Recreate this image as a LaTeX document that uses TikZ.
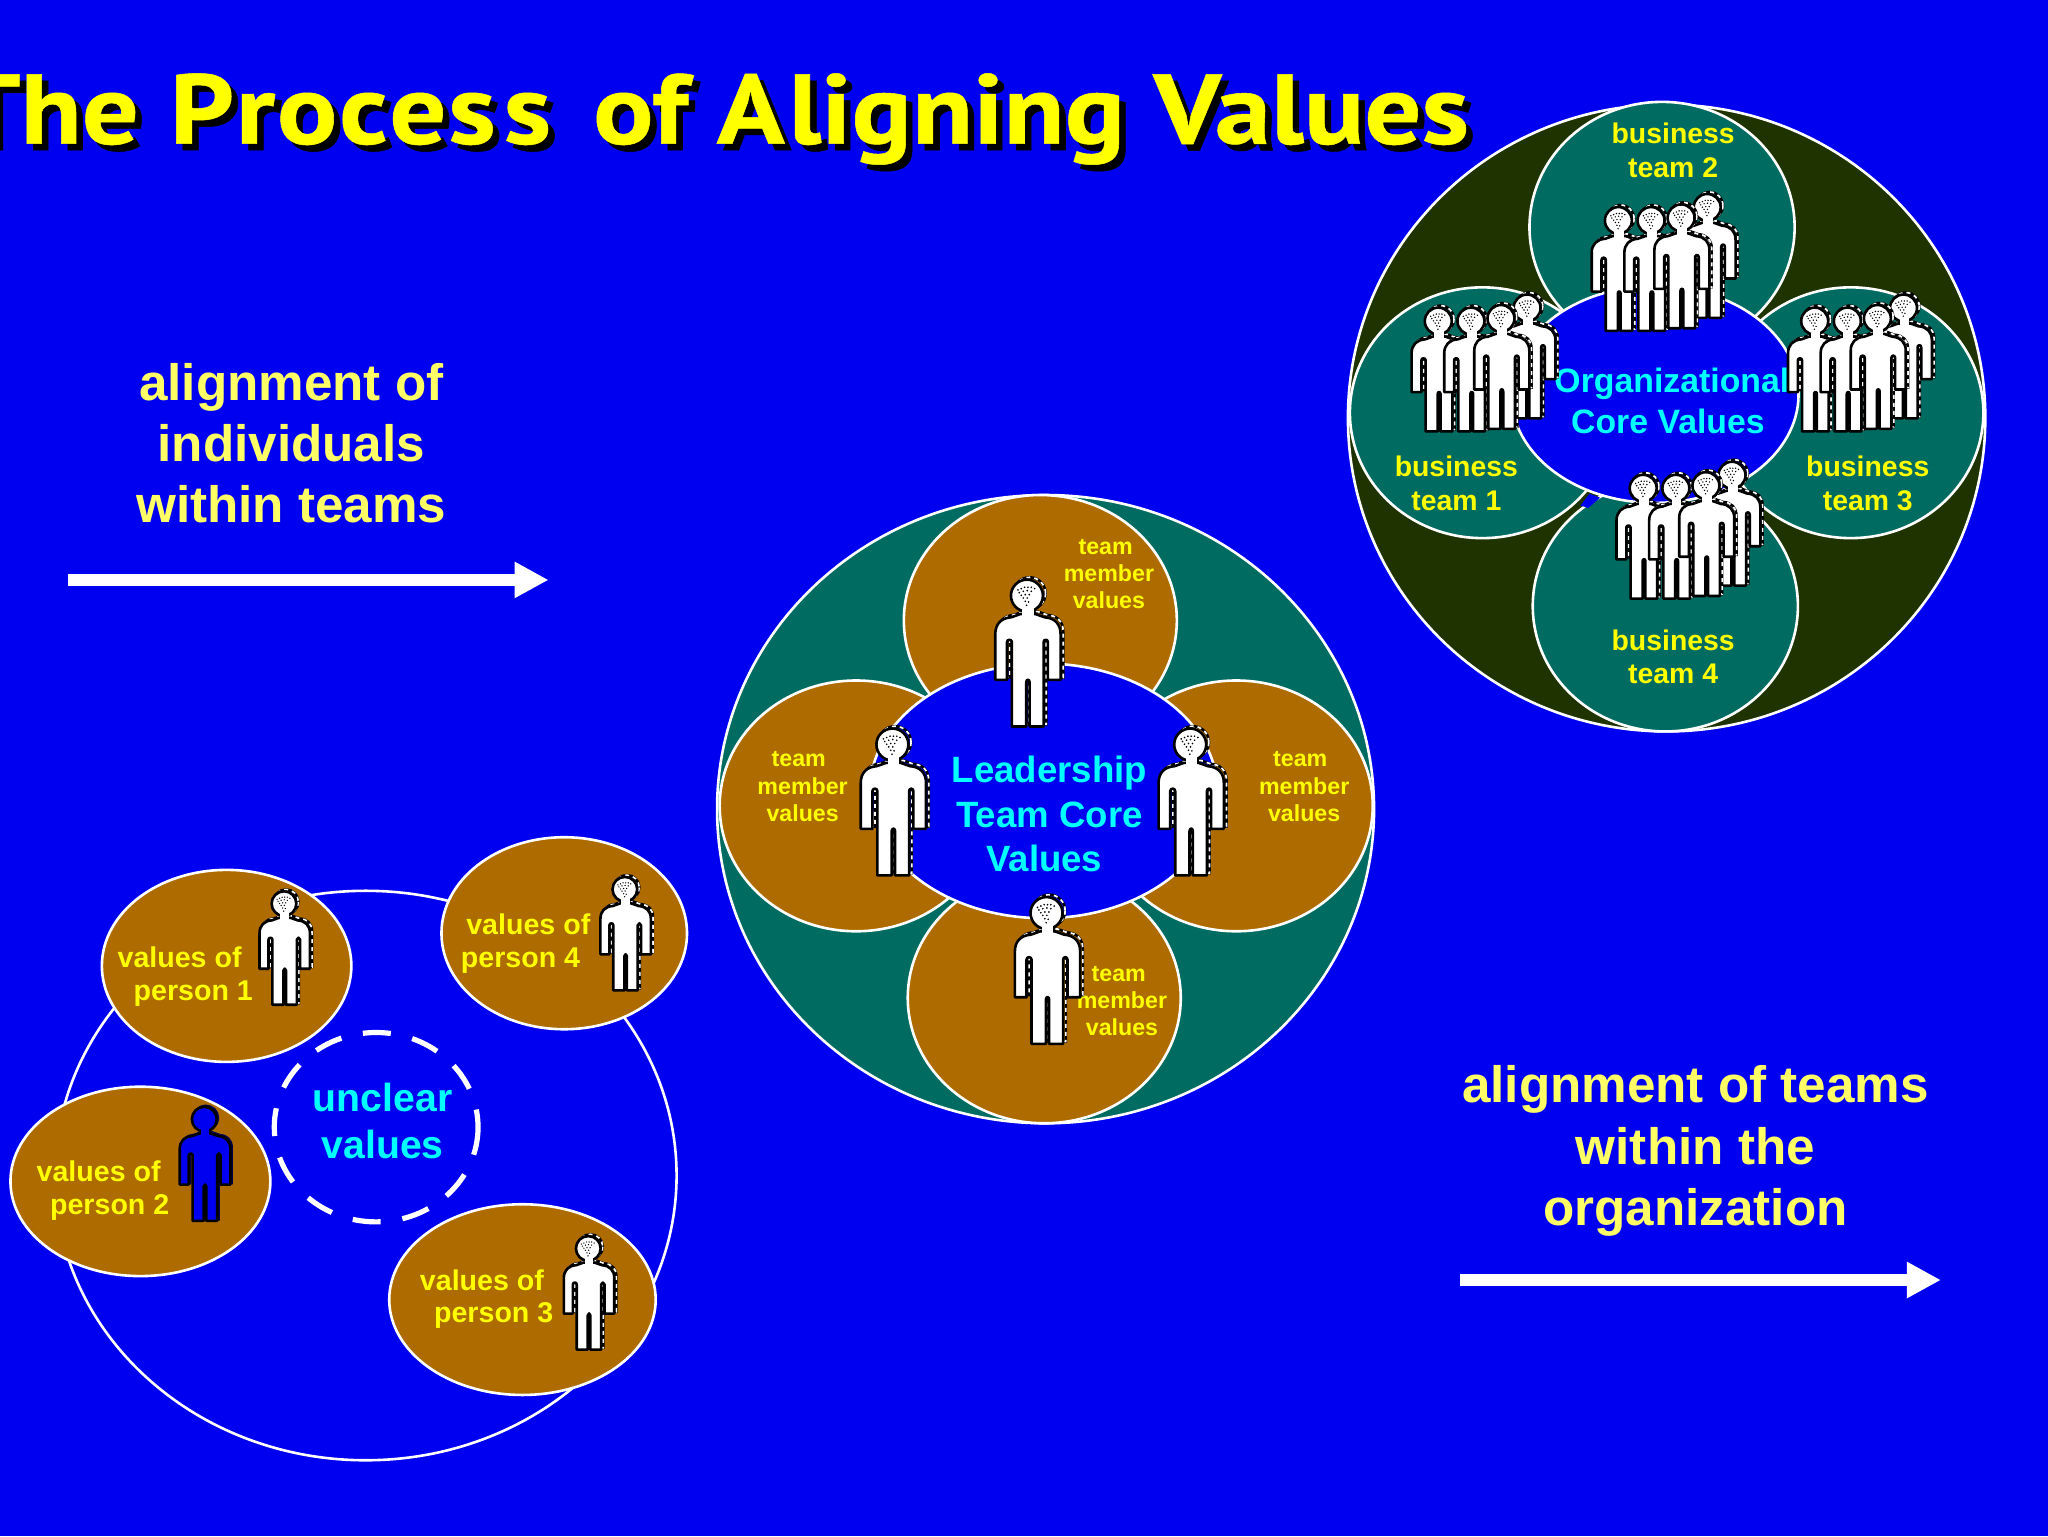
\documentclass[tikz,border=0pt]{standalone}
\usepackage{fontspec}
\usepackage{graphicx}
\setmainfont{Liberation Sans}
\newfontfamily\titlefont[BoldFeatures={FakeBold=0.5}]{PT Sans}
\usetikzlibrary{arrows.meta}
\definecolor{bgblue}{HTML}{0000F0}
\definecolor{brownfill}{HTML}{AD6B00}
\definecolor{tealfill}{HTML}{006B60}
\definecolor{darkfill}{HTML}{1F3300}
\definecolor{paleyellow}{HTML}{FFFF66}
\definecolor{coreblue}{HTML}{0000F0}
\definecolor{lblcyan}{HTML}{00FFFF}
\definecolor{lblyellow}{HTML}{FFFF00}
\tikzset{
  x=0.65306pt,y=-0.65306pt,
  disc/.style={draw=white,line width=1.3pt},
  brownpetal/.style={disc,fill=brownfill},
  tealpetal/.style={disc,fill=tealfill},
  core/.style={disc,fill=coreblue},
  lbl/.style={inner sep=0pt},
  headline/.style={lbl,text=paleyellow,text height=22.4pt,text depth=5.1pt,font=\fontsize{25.6}{30}\bfseries\selectfont},
  smallval/.style={lbl,text=lblyellow,text height=12.9pt,text depth=2.9pt,font=\fontsize{14.3}{17}\bfseries\selectfont},
  teamval/.style={lbl,text=lblyellow,text height=10.35pt,text depth=2.3pt,font=\fontsize{11.6}{14}\bfseries\selectfont},
  bizval/.style={lbl,text=lblyellow,text height=12.8pt,text depth=2.8pt,font=\fontsize{14.2}{17}\bfseries\selectfont},
  cyanlbl/.style={lbl,text=lblcyan,text height=#1*0.94pt,text depth=#1*0.2pt,font=\fontsize{#1}{#1}\bfseries\selectfont},
  bigarrow/.style={draw=white,line width=6pt,-{Triangle[length=17pt,width=17pt]}},
}
\def\bodypath{(-22,110) -- (-50,120) .. controls (-80,122) and (-98,140) .. (-98,170) -- (-98,308) -- (-63,308) -- (-63,195)
  .. controls (-63,185) and (-48,185) .. (-48,195) -- (-48,448) -- (-5,448) -- (-5,315)
  .. controls (-5,305) and (5,305) .. (5,315) -- (5,448) -- (47,448) -- (47,195)
  .. controls (47,185) and (60,185) .. (60,195) -- (60,308) -- (98,308) -- (98,170)
  .. controls (98,140) and (80,122) .. (50,120) -- (22,110) -- cycle}
\def\headpath{(-3,55) circle[radius=48]}
\newcommand\personfig[5]{%
  \begin{scope}[shift={(#1,#2)},scale=#3]
    \ifnum#5=1
      \begin{scope}[shift={(8,-7)}]
        \draw[black,line width=1.3pt] \bodypath;
        \draw[black,line width=1.3pt] \headpath;
        \draw[white,line width=.85pt,dash pattern=on 2pt off 2pt] \bodypath;
        \draw[white,line width=.85pt,dash pattern=on 2pt off 2pt] \headpath;
      \end{scope}
    \else
      \begin{scope}[shift={(6,-5)}]
        \draw[black!70!blue,line width=1pt] \bodypath;
        \draw[black!70!blue,line width=1pt] \headpath;
      \end{scope}
    \fi
    \draw[black,fill=#4,line width=1.3pt,line join=round] \bodypath;
    \draw[black,fill=#4,line width=1.3pt] \headpath;
    \fill[#4] (-17,88) rectangle (17,122);
    \ifnum#5=1
      \foreach \dx/\dy in {-30/38,-20/34,-10/30,0/30,10/30,20/34,-26/46,-14/42,-2/40,10/42,-20/54,-8/52,4/52,-14/62,-2/62,-8/72,2/74,-4/84}
        \fill[black] (\dx,\dy) circle[radius=2.8];
    \fi
  \end{scope}}
\newcommand\persongroup[2]{%
  \personfig{#1+20}{#2-8}{.215}{white}{1}
  \personfig{#1-48}{#2+2}{.215}{white}{1}
  \personfig{#1-23}{#2+2}{.215}{white}{1}
  \personfig{#1}{#2}{.215}{white}{1}}
\newcommand\titletext{\titlefont\bfseries The\kern.02em\ P\kern.015em r\kern.015em o\kern.015em c\kern.015em e\kern.015em s\kern.07em s\kern.12em\ of A\kern.03em ligning Values}
\begin{document}
\begin{tikzpicture}
\useasboundingbox (0,0) rectangle (1568,1176);
\fill[bgblue] (0,0) rectangle (1568,1176);
\clip (0,0) rectangle (1568,1176);

% title
\node[inner sep=0pt,anchor=base east,text=black] (titleshadow) at (1130,115)
  {\scalebox{1}[0.88]{\resizebox{756pt}{!}{\titletext}}};
\node[inner sep=0pt,anchor=base east,text=lblyellow] (titlemain) at (1125,110)
  {\scalebox{1}[0.88]{\resizebox{756pt}{!}{\titletext}}};

% left headline
\node[headline] (h1a) at (223,293) {alignment of};
\node[headline] (h1b) at (223,340) {individuals};
\node[headline] (h1c) at (223,387) {within teams};
\coordinate (a1s) at (52,444);
\coordinate (a1e) at (420,444);
\draw[bigarrow] (a1s) -- (a1e);

% right headline
\node[headline] (h2a) at (1298,831) {alignment of teams};
\node[headline] (h2b) at (1298,878) {within the};
\node[headline] (h2c) at (1298,925) {organization};
\coordinate (a2s) at (1118,980);
\coordinate (a2e) at (1486,980);
\draw[bigarrow] (a2s) -- (a2e);

% lower-left group
\draw[disc] (280,900) ellipse[x radius=238,y radius=218];
\draw[brownpetal] (173.5,739.5) ellipse[x radius=95.5,y radius=73.5];
\draw[brownpetal] (432,714.5) ellipse[x radius=94,y radius=73.5];
\draw[brownpetal] (107.5,904.5) ellipse[x radius=99.5,y radius=72.5];
\draw[brownpetal] (400,995) ellipse[x radius=102,y radius=73];
\draw[white,line width=2.6pt,dash pattern=on 14pt off 11pt] (288,863) ellipse[x radius=78,y radius=72.5];
\node[cyanlbl=19.6] (u1) at (293,840) {unclear};
\node[cyanlbl=19.6] (u2) at (293,876) {values};
\node[smallval] (p1a) at (137.5,733) {values of};
\node[smallval] (p1b) at (148,758) {person 1};
\node[smallval] (p2a) at (75.5,897) {values of};
\node[smallval] (p2b) at (84,922) {person 2};
\node[smallval] (p3a) at (369,980) {values of};
\node[smallval] (p3b) at (378,1005) {person 3};
\node[smallval] (p4a) at (404.5,708) {values of};
\node[smallval] (p4b) at (398.5,733) {person 4};
\personfig{218}{681}{.197}{white}{1}
\personfig{479}{670}{.197}{white}{1}
\personfig{451}{945}{.197}{white}{1}
\personfig{157}{846}{.198}{bgblue}{0}

% leadership team
\draw[tealpetal] (800.5,619.5) ellipse[x radius=251.5,y radius=240.5];
\draw[brownpetal] (796.5,475) ellipse[x radius=104.5,y radius=96];
\draw[brownpetal] (799.5,764) ellipse[x radius=104.5,y radius=96];
\draw[brownpetal] (655.5,617) ellipse[x radius=104.5,y radius=96];
\draw[brownpetal] (946.5,617) ellipse[x radius=104.5,y radius=96];
\draw[core] (799,605.5) ellipse[x radius=133,y radius=97.5];
\node[cyanlbl=18.3] (l1) at (803.5,589) {Leadership};
\node[cyanlbl=18.3] (l2) at (803.5,623) {Team Core};
\node[cyanlbl=18.3] (l3) at (799.5,657) {Values};
\node[teamval] (t1a) at (846.5,418) {team};
\node[teamval] (t1b) at (849,439) {member};
\node[teamval] (t1c) at (849,460) {values};
\node[teamval] (t2a) at (611.5,581) {team};
\node[teamval] (t2b) at (614.5,602) {member};
\node[teamval] (t2c) at (614.5,623) {values};
\node[teamval] (t3a) at (995.5,581) {team};
\node[teamval] (t3b) at (998.5,602) {member};
\node[teamval] (t3c) at (998.5,623) {values};
\node[teamval] (t4a) at (856.5,745) {team};
\node[teamval] (t4b) at (859,766) {member};
\node[teamval] (t4c) at (859,787) {values};
\personfig{787}{442}{.255}{white}{1}
\personfig{684}{556}{.255}{white}{1}
\personfig{912}{556}{.255}{white}{1}
\personfig{802}{685}{.255}{white}{1}

% organization
\draw[disc,fill=darkfill] (1276,320) ellipse[x radius=244,y radius=240];
\draw[tealpetal] (1272.5,174) ellipse[x radius=101.5,y radius=96];
\draw[tealpetal] (1135,316) ellipse[x radius=101.5,y radius=96];
\draw[tealpetal] (1417,316) ellipse[x radius=101.5,y radius=96];
\draw[tealpetal] (1275,464) ellipse[x radius=101.5,y radius=96];
\fill[bgblue] (1210,387) -- (1217,378) -- (1225,381) -- (1216,389) -- cycle;
\draw[core] (1267,302) ellipse[x radius=110,y radius=83];
\node[cyanlbl=16.9] (o1) at (1280,291) {Organizational};
\node[cyanlbl=16.9] (o2) at (1277,322) {Core Values};
\node[bizval] (b2a) at (1281,102) {business};
\node[bizval] (b2b) at (1281,128) {team 2};
\node[bizval] (b1a) at (1115,357) {business};
\node[bizval] (b1b) at (1115,383) {team 1};
\node[bizval] (b3a) at (1430,357) {business};
\node[bizval] (b3b) at (1430,383) {team 3};
\node[bizval] (b4a) at (1281,490) {business};
\node[bizval] (b4b) at (1281,516) {team 4};
\persongroup{1287.7}{155}
\persongroup{1149.8}{232}
\persongroup{1438}{232}
\persongroup{1306.7}{360}
\end{tikzpicture}
\end{document}
